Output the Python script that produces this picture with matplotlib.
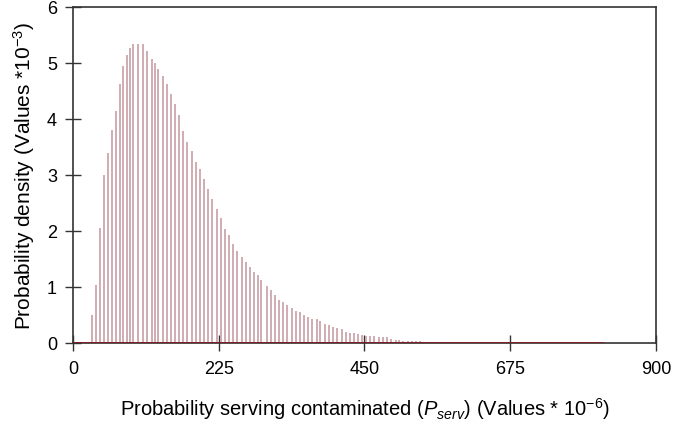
import matplotlib
matplotlib.use("Agg")
import matplotlib.pyplot as plt

plt.rcParams['font.family'] = ['Liberation Sans', 'DejaVu Sans']
plt.rcParams['mathtext.fontset'] = 'custom'
plt.rcParams['mathtext.rm'] = 'Liberation Sans'
plt.rcParams['mathtext.it'] = 'Liberation Sans:italic'
plt.rcParams['mathtext.bf'] = 'Liberation Sans:bold'

# Bin centres (Pserv, values * 1e-6) and probability density (values * 1e-3)
p_serv = [28.8, 35.0, 41.7, 48.4, 54.5, 60.7, 66.9, 72.6, 77.7, 82.9,
          88.0, 93.2, 100.8, 108.5, 114.7, 121.4, 126.5, 131.7, 138.4, 144.5,
          151.2, 157.4, 163.6, 170.3, 176.4, 183.1, 189.3, 196.0, 202.1, 208.8,
          215.0, 221.7, 227.9, 234.6, 240.8, 247.4, 253.6, 260.3, 266.5, 273.2,
          279.3, 286.0, 291.0, 299.0, 305.0, 312.0, 318.0, 324.6, 330.8, 337.5,
          343.7, 350.0, 356.6, 363.0, 369.0, 376.0, 382.0, 389.0, 395.0, 401.8,
          408.0, 414.7, 421.0, 427.5, 433.7, 440.0, 446.0, 453.0, 459.0, 465.0,
          472.0, 478.0, 485.0, 491.0, 498.0, 504.0, 510.0, 517.0, 523.0, 530.0,
          536.0, 542.0, 549.0, 555.0, 561.0, 568.0]
density = [0.50, 1.04, 2.06, 3.00, 3.40, 3.80, 4.15, 4.62, 4.95, 5.15,
           5.27, 5.33, 5.34, 5.33, 5.22, 5.07, 5.00, 4.90, 4.77, 4.63,
           4.45, 4.27, 4.07, 3.79, 3.58, 3.43, 3.23, 3.10, 2.93, 2.75,
           2.57, 2.39, 2.24, 2.04, 1.92, 1.77, 1.65, 1.53, 1.44, 1.35,
           1.27, 1.21, 1.125, 1.02, 0.95, 0.85, 0.76, 0.73, 0.68, 0.62,
           0.57, 0.55, 0.50, 0.46, 0.43, 0.42, 0.40, 0.34, 0.32, 0.28,
           0.26, 0.25, 0.19, 0.18, 0.17, 0.16, 0.15, 0.13, 0.13, 0.12,
           0.11, 0.10, 0.10, 0.08, 0.06, 0.05, 0.04, 0.04, 0.03, 0.03,
           0.03, 0.02, 0.02, 0.02, 0.02, 0.01]
# support of the distribution (baseline)
support = [0, 820]

x_ticks = [0, 225, 450, 675, 900]
y_ticks = [0, 1, 2, 3, 4, 5, 6]

fig = plt.figure(figsize=(6.99, 4.27), dpi=100)
ax = fig.add_axes([0.1044, 0.1944, 0.834, 0.787])

ax.vlines(p_serv, 0, density, colors='#cba6ab', linewidth=1.3, zorder=2)
ax.plot(support, [0, 0], color='#861a22', linewidth=2.0, zorder=3, solid_capstyle='butt')

ax.set_xlim(0, 900)
ax.set_ylim(0, 6)
ax.set_xticks(x_ticks)
ax.set_yticks(y_ticks)
ax.tick_params(direction='inout', length=11, width=1, colors='#333333',
               labelcolor='black', labelsize=13)
ax.tick_params(axis='y', pad=6)
ax.tick_params(axis='x', pad=7)

for s in ax.spines.values():
    s.set_color('#333333')
    s.set_linewidth(1.2)

ax.set_xlabel(r'Probability serving contaminated ($P_{serv}$) (Values * 10$^{\mathregular{-6}}$)',
              fontsize=14.5, labelpad=13)
ax.set_ylabel(r'Probability density (Values *10$^{\mathregular{-3}}$)', fontsize=15, labelpad=7)

fig.savefig('out.png', dpi=100)
